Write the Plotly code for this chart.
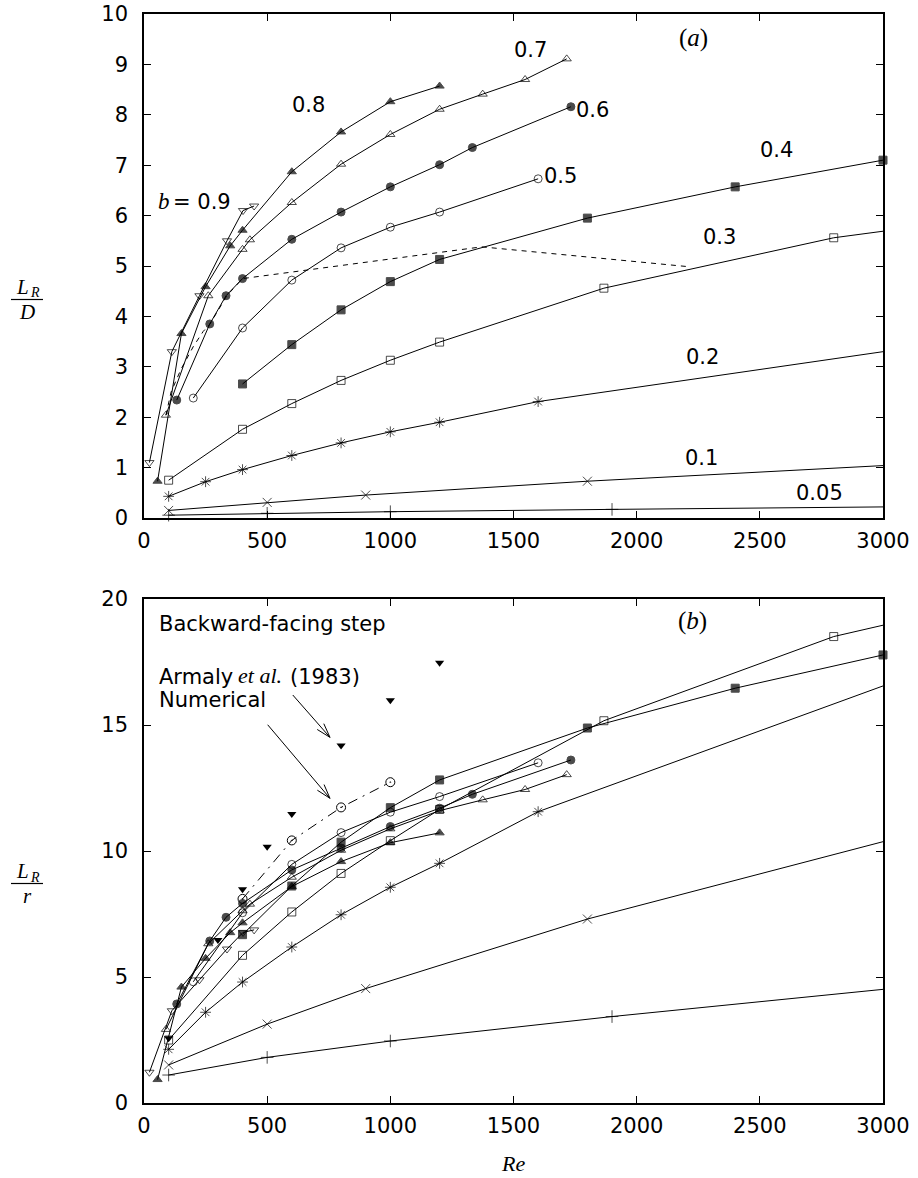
import math
import plotly.graph_objects as go

# ---------------- data ----------------
# Re values per blockage ratio b; last entry of the 0.05-0.3 series is where the
# curve leaves the frame at Re = 3000 (no symbol drawn there)
RE_005 = [100, 500, 1000, 1900, 3000]
A_005 = [0.056, 0.093, 0.125, 0.171, 0.22]
B_005 = [1.11, 1.81, 2.46, 3.43, 4.51]

RE_01 = [100, 500, 900, 1800, 3000]
A_01 = [0.15, 0.31, 0.455, 0.73, 1.04]
B_01 = [1.51, 3.13, 4.54, 7.30, 10.37]

RE_02 = [100, 250, 400, 600, 800, 1000, 1200, 1600, 3000]
A_02 = [0.43, 0.72, 0.96, 1.24, 1.49, 1.71, 1.90, 2.31, 3.30]
B_02 = [2.13, 3.60, 4.80, 6.19, 7.47, 8.56, 9.51, 11.56, 16.55]

RE_03 = [100, 400, 600, 800, 1000, 1200, 1867, 2800, 3000]
A_03 = [0.75, 1.76, 2.27, 2.73, 3.13, 3.49, 4.56, 5.56, 5.69]
B_03 = [2.50, 5.86, 7.58, 9.11, 10.41, 11.65, 15.17, 18.51, 18.96]

RE_04 = [400, 600, 800, 1000, 1200, 1800, 2400, 3000]
A_04 = [2.66, 3.44, 4.13, 4.69, 5.13, 5.95, 6.57, 7.10]
B_04 = [6.68, 8.61, 10.35, 11.72, 12.82, 14.88, 16.46, 17.78]

RE_05 = [200, 400, 600, 800, 1000, 1200, 1600]
A_05 = [2.38, 3.77, 4.72, 5.36, 5.77, 6.07, 6.73]
B_05 = [4.81, 7.55, 9.47, 10.73, 11.54, 12.16, 13.50]

RE_06 = [133, 267, 333, 400, 600, 800, 1000, 1200, 1333, 1733]
A_06 = [2.34, 3.85, 4.41, 4.75, 5.53, 6.07, 6.57, 7.01, 7.35, 8.16]
B_06 = [3.93, 6.43, 7.37, 7.92, 9.25, 10.12, 10.97, 11.70, 12.25, 13.61]

RE_07 = [89, 261, 400, 430, 600, 800, 1000, 1200, 1375, 1547, 1716]
A_07 = [2.04, 4.41, 5.33, 5.52, 6.26, 7.02, 7.61, 8.11, 8.41, 8.70, 9.11]
B_07 = [2.92, 6.32, 7.63, 7.89, 8.96, 10.03, 10.88, 11.60, 12.03, 12.44, 13.03]

RE_08 = [55, 152, 250, 350, 400, 600, 800, 1000, 1200]
A_08 = [0.73, 3.66, 4.59, 5.40, 5.71, 6.87, 7.66, 8.26, 8.57]
B_08 = [0.93, 4.60, 5.74, 6.76, 7.15, 8.59, 9.58, 10.33, 10.72]

RE_09 = [22, 113, 225, 337, 402, 447]
A_09 = [1.10, 3.30, 4.41, 5.50, 6.10, 6.19]
B_09 = [1.22, 3.66, 4.89, 6.11, 6.77, 6.87]

# dashed locus in panel (a)
RE_LOCUS = [89, 110, 150, 200, 240, 268, 336, 400, 1371, 2203]
A_LOCUS = [2.04, 2.50, 2.95, 3.40, 3.70, 3.85, 4.41, 4.75, 5.38, 4.99]

# backward-facing step, panel (b)
RE_ARMALY = [100, 300, 400, 500, 600, 800, 1000, 1200]
B_ARMALY = [2.57, 6.47, 8.48, 10.17, 11.47, 14.19, 15.98, 17.47]
RE_NUM = [400, 600, 800, 1000]
B_NUM = [8.10, 10.42, 11.73, 12.73]

X_TICKS = [0, 500, 1000, 1500, 2000, 2500, 3000]
YA_TICKS = list(range(0, 11))
YB_TICKS = [0, 5, 10, 15, 20]

# ---------------- figure ----------------
W, H = 918, 1178
SANS = "DejaVu Sans"
SERIF = "Liberation Serif"
FS = 21
PX_L, PX_R = 144, 883          # plot-area edges (pixels)
PA_T, PA_B = 14, 518           # panel (a) top / bottom
PB_T, PB_B = 599, 1103         # panel (b) top / bottom

fig = go.Figure()

series = [
    ("0.05", RE_005, A_005, B_005, "cross-thin-open", 9, True),
    ("0.1", RE_01, A_01, B_01, "x-thin-open", 9, True),
    ("0.2", RE_02, A_02, B_02, "asterisk-open", 9, True),
    ("0.3", RE_03, A_03, B_03, "square-open", 8, True),
    ("0.4", RE_04, A_04, B_04, "square", 8, False),
    ("0.5", RE_05, A_05, B_05, "circle-open", 8, False),
    ("0.6", RE_06, A_06, B_06, "circle", 8, False),
    ("0.7", RE_07, A_07, B_07, "triangle-up-open", 8, False),
    ("0.8", RE_08, A_08, B_08, "triangle-up", 8, False),
    ("0.9", RE_09, A_09, B_09, "triangle-down-open", 8, False),
]

for name, re_, ya, yb, sym, size, edge in series:
    sizes = [size] * len(re_)
    if edge:
        sizes[-1] = 0
    for yv, xa, yax in ((ya, "x", "y"), (yb, "x2", "y2")):
        fig.add_trace(go.Scatter(
            x=re_, y=yv, xaxis=xa, yaxis=yax, mode="lines+markers", name="b=" + name,
            line=dict(color="black", width=1),
            marker=dict(symbol=sym, size=sizes, color="black",
                        line=dict(color="black", width=1)),
            cliponaxis=False, showlegend=False))

fig.add_trace(go.Scatter(
    x=RE_LOCUS, y=A_LOCUS, xaxis="x", yaxis="y", mode="lines",
    line=dict(color="black", width=1, dash="5px,5px"), showlegend=False))

fig.add_trace(go.Scatter(
    x=RE_ARMALY, y=B_ARMALY, xaxis="x2", yaxis="y2", mode="markers",
    marker=dict(symbol="triangle-down", size=8, color="black"),
    cliponaxis=False, showlegend=False))
fig.add_trace(go.Scatter(
    x=RE_NUM, y=B_NUM, xaxis="x2", yaxis="y2", mode="lines+markers",
    line=dict(color="black", width=1, dash="10px,6px,2px,6px"),
    marker=dict(symbol="circle-open-dot", size=9, color="black",
                line=dict(color="black", width=1)),
    cliponaxis=False, showlegend=False))

XDOM = [PX_L / W, PX_R / W]
axis_common = dict(
    showline=True, linecolor="black", linewidth=1.5, mirror="ticks",
    ticks="inside", ticklen=7, tickwidth=1, tickcolor="black",
    showgrid=False, zeroline=False, automargin=False,
    tickfont=dict(family=SANS, size=FS, color="black"),
)

fig.update_layout(
    width=W, height=H,
    margin=dict(l=0, r=0, t=0, b=0, pad=0, autoexpand=False),
    paper_bgcolor="white", plot_bgcolor="white",
    xaxis=dict(domain=XDOM, range=[0, 3000], tickvals=X_TICKS, anchor="y",
               ticklabelstandoff=3, **axis_common),
    yaxis=dict(domain=[1 - PA_B / H, 1 - PA_T / H], range=[0, 10], tickvals=YA_TICKS,
               anchor="x", ticklabelstandoff=10, **axis_common),
    xaxis2=dict(domain=XDOM, range=[0, 3000], tickvals=X_TICKS, anchor="y2",
                ticklabelstandoff=3, **axis_common),
    yaxis2=dict(domain=[1 - PB_B / H, 1 - PB_T / H], range=[0, 20], tickvals=YB_TICKS,
                anchor="x2", ticklabelstandoff=10, **axis_common),
)

ann = []


def txt(x, y, s, xref="x", yref="y", xanchor="center", size=FS, family=SANS):
    ann.append(dict(x=x, y=y, xref=xref, yref=yref, text=s, showarrow=False,
                    xanchor=xanchor, yanchor="middle",
                    font=dict(family=family, size=size, color="black")))


def ptxt(px, py, s, xanchor="center", size=FS, family=SANS):
    """text placed by pixel position on the page"""
    txt(px / W, 1 - py / H, s, xref="paper", yref="paper", xanchor=xanchor,
        size=size, family=family)


# panel (a) curve labels
txt(669, 8.19, "0.8")
txt(1570, 9.29, "0.7")
txt(1819, 8.10, "0.6")
txt(1689, 6.78, "0.5")
txt(2569, 7.30, "0.4")
txt(2338, 5.58, "0.3")
txt(2269, 3.20, "0.2")
txt(2264, 1.19, "0.1")
txt(2744, 0.49, "0.05")
ptxt(156, 201, "<i>b</i>", xanchor="left", family=SERIF, size=23)
ptxt(171, 202, "= 0.9", xanchor="left")
txt(2229, 9.52, "(<i>a</i>)", family=SERIF, size=25)

# panel (b) texts
txt(53, 19.01, "Backward-facing step", xref="x2", yref="y2", xanchor="left")
ptxt(157, 677, "Armaly", xanchor="left")
ptxt(236, 675, "<i>et al.</i>", xanchor="left", family=SERIF, size=22)
ptxt(288, 677, "(1983)", xanchor="left")
txt(53, 15.99, "Numerical", xref="x2", yref="y2", xanchor="left")
txt(2225, 19.13, "(<i>b</i>)", xref="x2", yref="y2", family=SERIF, size=25)

# axis titles (stacked fractions, built from pieces)
for (ly, den) in ((287, "<i>D</i>"), (871, "<i>r</i>")):
    ptxt(22, ly, "<i>L</i>", family=SERIF, size=21)
    ptxt(35, ly + 6, "<i>R</i>", family=SERIF, size=14)
    ptxt(27, ly + 25, den, family=SERIF, size=21)
ptxt(513, 1163, "<i>Re</i>", family=SERIF, size=22)

fig.update_layout(annotations=ann)

shapes = [
    dict(type="line", xref="paper", yref="paper", x0=11 / W, x1=43 / W,
         y0=1 - 299.5 / H, y1=1 - 299.5 / H, line=dict(color="black", width=1.2)),
    dict(type="line", xref="paper", yref="paper", x0=11 / W, x1=43 / W,
         y0=1 - 883.5 / H, y1=1 - 883.5 / H, line=dict(color="black", width=1.2)),
]

# pointer arrows (open V heads), panel (b): (tip Re, tip y, tail Re, tail y)
KX = (PX_R - PX_L) / 3000.0
KY = (PB_B - PB_T) / 20.0
for (tx, ty, sx, sy) in ((755, 14.51, 604, 16.19), (755, 12.09, 502, 15.01)):
    shapes.append(dict(type="line", xref="x2", yref="y2", x0=sx, y0=sy, x1=tx, y1=ty,
                       line=dict(color="black", width=1)))
    dxp, dyp = (sx - tx) * KX, -(sy - ty) * KY
    L = math.hypot(dxp, dyp)
    ux, uy = dxp / L, dyp / L
    pts = []
    for ang in (math.radians(17), math.radians(-17)):
        rx = ux * math.cos(ang) - uy * math.sin(ang)
        ry = ux * math.sin(ang) + uy * math.cos(ang)
        pts.append((tx + 15 * rx / KX, ty - 15 * ry / KY))
    path = "M {:.3f},{:.4f} L {:.3f},{:.4f} L {:.3f},{:.4f}".format(
        pts[0][0], pts[0][1], tx, ty, pts[1][0], pts[1][1])
    shapes.append(dict(type="path", xref="x2", yref="y2", path=path,
                       line=dict(color="black", width=1)))

fig.update_layout(shapes=shapes)

fig.write_html("out.html", config={"displayModeBar": False},
               post_script="document.body.style.margin='0';")
